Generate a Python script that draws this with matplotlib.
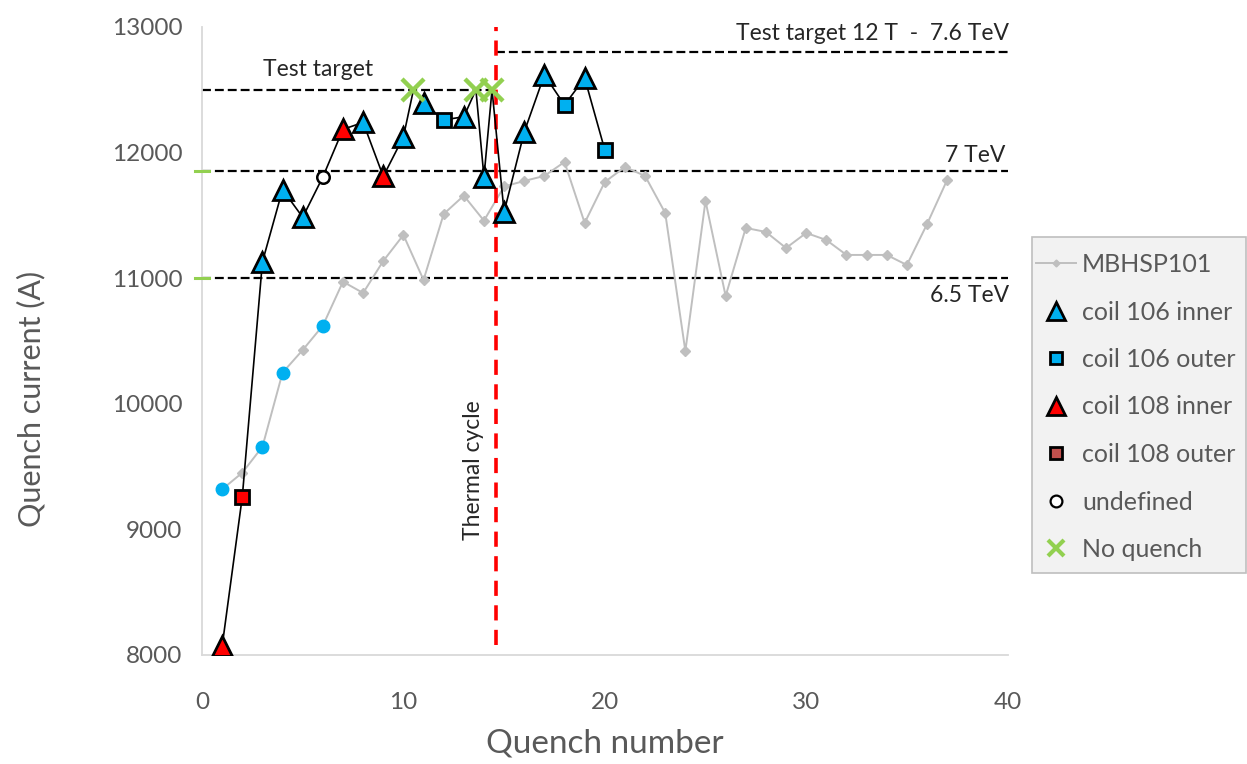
import matplotlib
matplotlib.use("Agg")
import matplotlib.pyplot as plt
from matplotlib.lines import Line2D
from matplotlib.patches import Rectangle

plt.rcParams['font.family'] = ['Lato', 'DejaVu Sans']

# Reference magnet MBHSP101: quench number and current (A)
ref_quench = list(range(1, 38))
ref_current = [9319, 9451, 9658, 10248, 10428, 10622, 10972, 10882, 11137, 11344,
               10986, 11511, 11657, 11458, 11730, 11774, 11814, 11925, 11440, 11766,
               11885, 11814, 11519, 10420, 11615, 10858, 11400, 11368, 11240, 11360,
               11304, 11185, 11185, 11185, 11105, 11430, 11782]
# Reference quenches highlighted with a blue dot
ref_highlight = [1, 3, 4, 6]

# Training sequence of the new magnet
train_quench = [1, 2, 3, 4, 5, 6, 7, 8, 9, 10, 10.5, 11, 12, 13, 13.6, 14, 14.4,
                15, 16, 17, 18, 19, 20]
train_current = [8070, 9260, 11130, 11705, 11485, 11806, 12185, 12240, 11810, 12125,
                 12500, 12395, 12260, 12285, 12500, 11806, 12500, 11527, 12164, 12618,
                 12379, 12594, 12021]
train_origin = ['108i', '108o', '106i', '106i', '106i', 'und', '108i', '106i', '108i',
                '106i', 'nq', '106i', '106o', '106i', 'nq', '106i', 'nq', '106i',
                '106i', '106i', '106o', '106i', '106o']

# Reference current levels
level_test_target = 12500
level_12T = 12800
level_7TeV = 11850
level_65TeV = 11000
thermal_cycle_at = 14.6

BLUE = '#00b0f0'
RED = '#ff0000'
GREEN = '#92d050'
GREY = '#bfbfbf'
TXT = '#595959'

fig = plt.figure(figsize=(12.47, 7.64), dpi=100)
ax = fig.add_axes([0.162, 0.1427, 0.646, 0.822])
ax.set_xlim(0, 40)
ax.set_ylim(8000, 13000)

# Reference magnet
ax.plot(ref_quench, ref_current, color=GREY, lw=1.4, marker='D', ms=5,
        mfc=GREY, mec=GREY, zorder=2)
hx = [q for q in ref_highlight]
hy = [ref_current[ref_quench.index(q)] for q in ref_highlight]
ax.plot(hx, hy, ls='none', marker='o', ms=9, mfc=BLUE, mec=BLUE, zorder=3)

# Horizontal reference levels
dash_k = dict(color='black', lw=1.6, ls=(0, (4, 1.8)), zorder=1)
ax.plot([0, thermal_cycle_at], [level_test_target] * 2, **dash_k)
ax.plot([thermal_cycle_at, 40], [level_12T] * 2, **dash_k)
ax.plot([0, 40], [level_7TeV] * 2, **dash_k)
ax.plot([0, 40], [level_65TeV] * 2, **dash_k)

# Thermal cycle marker
ax.plot([thermal_cycle_at] * 2, [8080, 13000], color=RED, lw=2.6,
        ls=(0, (4.2, 2.6)), zorder=4)

# Training sequence
ax.plot(train_quench, train_current, color='black', lw=1.2, zorder=5)
styles = {
    '106i': dict(marker='^', ms=14, mfc=BLUE, mec='black', mew=2),
    '106o': dict(marker='s', ms=10.5, mfc=BLUE, mec='black', mew=2),
    '108i': dict(marker='^', ms=14, mfc=RED, mec='black', mew=2),
    '108o': dict(marker='s', ms=10.5, mfc=RED, mec='black', mew=2),
    'und': dict(marker='o', ms=9, mfc='white', mec='black', mew=1.8),
    'nq': dict(marker='x', ms=16, mfc=GREEN, mec=GREEN, mew=3.2),
}
for key, st in styles.items():
    xs = [q for q, o in zip(train_quench, train_origin) if o == key]
    ys = [c for c, o in zip(train_current, train_origin) if o == key]
    ax.plot(xs, ys, ls='none', zorder=6, **st)

# Green marks on the y axis for LHC energies
for lvl in (level_7TeV, level_65TeV):
    ax.plot([-0.35, 0.35], [lvl, lvl], color=GREEN, lw=2.2, clip_on=False, zorder=7)

# Annotations
ann = dict(fontsize=16.5, color='#262626')
ax.text(5.75, 12580, 'Test target', ha='center', va='bottom', **ann)
ax.text(40.05, 12865, 'Test target 12 T  -  7.6 TeV', ha='right', va='bottom', **ann)
ax.text(39.9, 11895, '7 TeV', ha='right', va='bottom', **ann)
ax.text(40.1, 10945, '6.5 TeV', ha='right', va='top', **ann)
ax.text(13.5, 9470, 'Thermal cycle', rotation=90, ha='center', va='center', **ann)

# Axes styling
for s in ('top', 'right'):
    ax.spines[s].set_visible(False)
for s in ('left', 'bottom'):
    ax.spines[s].set_color('#d9d9d9')
    ax.spines[s].set_linewidth(1.3)
ax.set_xticks([0, 10, 20, 30, 40])
ax.set_yticks([8000, 9000, 10000, 11000, 12000, 13000])
ax.tick_params(axis='both', length=0, labelsize=17.5, labelcolor=TXT)
ax.tick_params(axis='y', pad=14)
ax.tick_params(axis='x', pad=27)
ax.set_xlabel('Quench number', fontsize=24, color=TXT, labelpad=11)
ax.set_ylabel('Quench current (A)', fontsize=22, color=TXT)
ax.yaxis.set_label_coords(-0.194, 0.408)

# Legend box, drawn behind a frameless legend
fig.patches.append(Rectangle((1032 / 1247, 1 - 573 / 764), 214 / 1247, 336 / 764,
                             transform=fig.transFigure, facecolor='#f2f2f2',
                             edgecolor='#bfbfbf', linewidth=1.2, zorder=0))
handles = [
    Line2D([], [], color=GREY, lw=1.4, marker='D', ms=3.5, mfc=GREY, mec=GREY),
    Line2D([], [], ls='none', marker='^', ms=12.5, mfc=BLUE, mec='black', mew=2),
    Line2D([], [], ls='none', marker='s', ms=9, mfc=BLUE, mec='black', mew=2),
    Line2D([], [], ls='none', marker='^', ms=12.5, mfc=RED, mec='black', mew=2),
    Line2D([], [], ls='none', marker='s', ms=9, mfc='#c0504d', mec='black', mew=2),
    Line2D([], [], ls='none', marker='o', ms=8.5, mfc='white', mec='black', mew=1.6),
    Line2D([], [], ls='none', marker='x', ms=11, mec=GREEN, mew=3),
]
labels = ['MBHSP101', 'coil 106 inner', 'coil 106 outer', 'coil 108 inner',
          'coil 108 outer', 'undefined', 'No quench']
leg = fig.legend(handles, labels, loc='upper left',
                 bbox_to_anchor=(1036 / 1247, 1 - 253 / 764),
                 bbox_transform=fig.transFigure, fontsize=18, labelcolor=TXT,
                 frameon=False, handlelength=1.6, handletextpad=0.25,
                 labelspacing=0.98, borderpad=0, borderaxespad=0)

fig.savefig('out.png', dpi=100)
